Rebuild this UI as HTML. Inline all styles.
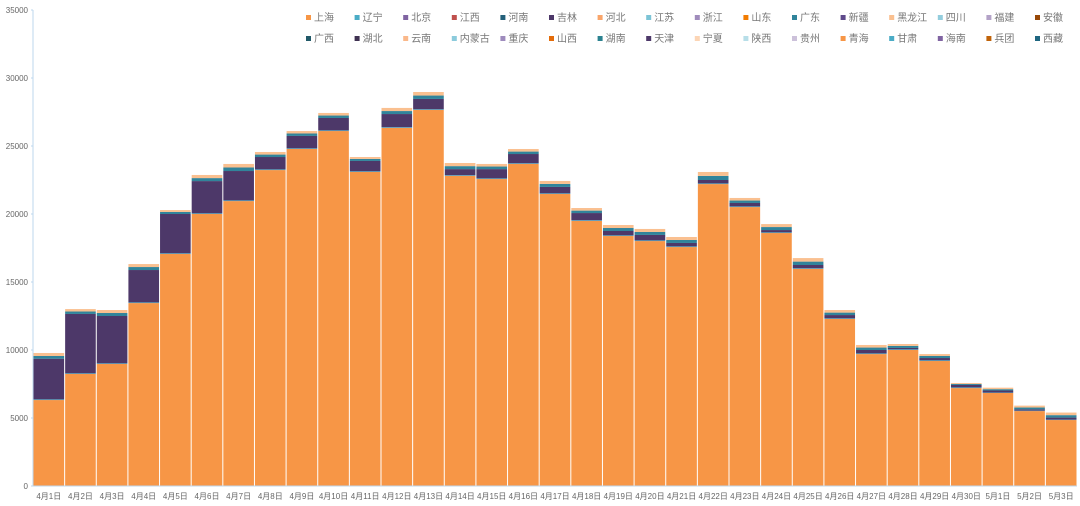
<!DOCTYPE html>
<html><head><meta charset="utf-8"><style>
body{margin:0;background:#fff;}
svg{display:block;font-family:"Liberation Sans","Noto Sans CJK SC",sans-serif;}
</style></head><body>
<svg id="chart" width="1080" height="506" viewBox="0 0 1080 506"></svg>
<script>
const categories=["4月1日","4月2日","4月3日","4月4日","4月5日","4月6日","4月7日","4月8日","4月9日","4月10日","4月11日","4月12日","4月13日","4月14日","4月15日","4月16日","4月17日","4月18日","4月19日","4月20日","4月21日","4月22日","4月23日","4月24日","4月25日","4月26日","4月27日","4月28日","4月29日","4月30日","5月1日","5月2日","5月3日"];
const shanghai=[6320,8235,8970,13450,17060,20000,20950,23230,24780,26100,23090,26330,27650,22800,22570,23680,21470,19490,18380,18010,17570,22200,20510,18600,15960,12280,9700,10000,9190,7200,6840,5510,4850];
const liaoning=[50,50,50,50,50,50,50,50,50,50,50,50,50,50,50,50,50,50,50,50,50,50,50,50,50,50,50,50,50,50,30,30,30];
const jilin=[2990,4365,3480,2380,2890,2370,2160,910,910,910,760,970,760,450,680,680,470,530,320,400,250,250,250,170,240,240,250,100,170,180,150,100,150];
const guangdong=[200,180,220,220,150,220,260,180,180,180,150,220,250,220,190,180,220,180,220,220,220,300,180,220,250,180,180,150,150,70,100,130,180];
const heilongjiang=[220,180,220,220,140,230,260,190,180,190,140,230,260,230,190,190,220,190,220,220,220,290,190,220,260,190,190,140,140,70,110,140,190];
const yTicks=[0,5000,10000,15000,20000,25000,30000,35000];
const seriesNames=["上海","辽宁","吉林","广东","黑龙江"];
const seriesData=[shanghai,liaoning,jilin,guangdong,heilongjiang];
const seriesColors=["#f79646","#4bacc6","#4d3869","#31849b","#fac090"];
const legendRow1=["上海","辽宁","北京","江西","河南","吉林","河北","江苏","浙江","山东","广东","新疆","黑龙江","四川","福建","安徽"];
const legendRow2=["广西","湖北","云南","内蒙古","重庆","山西","湖南","天津","宁夏","陕西","贵州","青海","甘肃","海南","兵团","西藏"];
const legendColors=["#f79646","#4bacc6","#8064a2","#c0504d","#23607a","#4d3869","#f9a56a","#7cc4d6","#a08cbc","#f27c00","#31849b","#5f4a8b","#fac090","#93cddd","#b3a2c7","#984807"];
const legendColors2=["#215968","#3f3151","#fab88a","#8ccbdc","#9e8bbd","#e46c0a","#2b8290","#4d3869","#fcd5b5","#b7dee8","#ccc1da","#f79646","#4bacc6","#8064a2","#c0630a","#1f6680"];

const svg=document.getElementById('chart');
const NS='http://www.w3.org/2000/svg';
const X0=33,X1=1077,Y0=486,Y1=10,YMAX=35000;
const bw=(X1-X0)/categories.length;
function y(v){return Y0-(v/YMAX)*(Y0-Y1);}
function xb(i){return X0+i*bw;}
function mk(tag,attrs,parent){const e=document.createElementNS(NS,tag);for(const k in attrs)e.setAttribute(k,attrs[k]);(parent||svg).appendChild(e);return e;}

// y axis
const yg=mk('g',{});


mk('line',{x1:X0,y1:Y1,x2:X0,y2:Y0,stroke:'#bdd7ee','stroke-width':1},yg);
yTicks.forEach(t=>{
  const tx=mk('text',{x:X0-5,y:y(t)+3,'text-anchor':'end','font-size':8,fill:'#666'},yg);
  tx.textContent=t;
  
  
  mk('line',{x1:X0-2,y1:y(t),x2:X0,y2:y(t),stroke:'#bdd7ee'},yg);
});
// bars
categories.forEach((c,i)=>{
  let acc=0;
  seriesData.forEach((s,k)=>{
    const v=s[i];
    const r=mk('rect',{x:xb(i)+0.5,y:y(acc+v),width:bw-1,height:y(acc)-y(acc+v),fill:seriesColors[k]});
    
    
    acc+=v;
  });
  const t=mk('text',{x:xb(i)+bw/2,y:499,'text-anchor':'middle','font-size':8,fill:'#666'});
  t.textContent=c;
  
  
});
mk('line',{x1:X0,y1:Y0,x2:X1,y2:Y0,stroke:'#bdd7ee'});
// legend
const lg=mk('g',{});


[[legendRow1,legendColors,18],[legendRow2,legendColors2,39]].forEach(([names,cols,ly])=>{
  names.forEach((n,j)=>{
    const lx=306+j*48.6;
    const g=mk('g',{},lg);
    
    
    mk('rect',{x:lx,y:ly-3,width:5,height:5,fill:cols[j]},g);
    const t=mk('text',{x:lx+8,y:ly+3,'font-size':10,fill:'#777'},g);
    t.textContent=n;
  });
});
</script>
</body></html>
